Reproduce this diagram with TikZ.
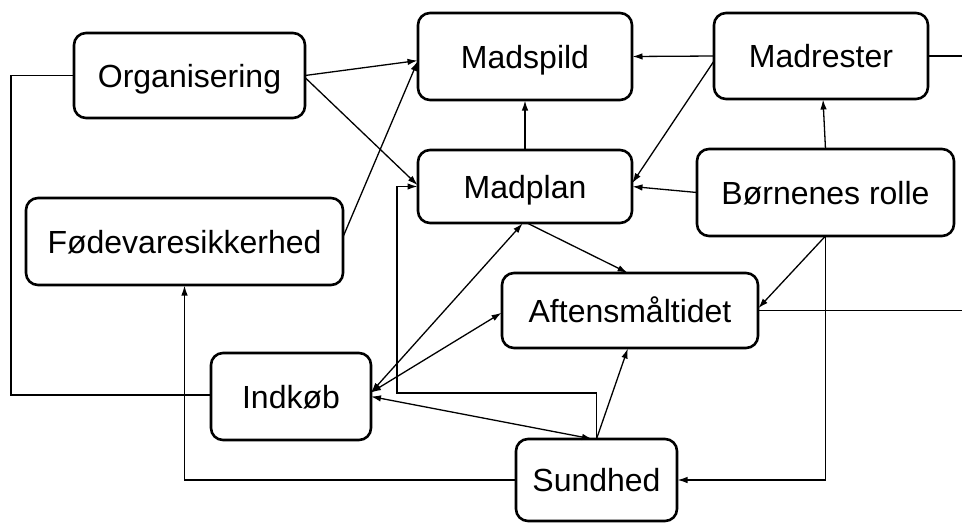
\documentclass[tikz,border=0pt]{standalone}
\usepackage{fontspec}
\setmainfont{Liberation Sans}
\usepackage{tikz}
\usetikzlibrary{arrows,arrows.meta,calc,positioning}
\tikzstyle{element}=[
  draw=black,
  fill=white,
  font={\fontsize{32}{38}\selectfont},
  inner sep=0pt,
  outer sep=0pt,
  rectangle,
  rounded corners=12pt,
  text centered,
  text height=23pt,
  text depth=0pt,
  line width=2.6pt,
]
\tikzstyle{arrow}=[
  color=black,
  draw=black,
  line width=1.3pt,
]
\tikzset{
  >={Latex[length=10pt,width=6.5pt]},
  shorten >=.5pt,
}

\begin{document}
\begin{tikzpicture}[x=1pt,y=-1pt]
      \useasboundingbox (0,0) rectangle (962,523);
      \node (organisering) [element, minimum width=231, minimum height=85] at (189.5,75.5) {Organisering};
      \node (madspild) [element, minimum width=214, minimum height=87] at (525,56.5) {Madspild};
      \node (madrester) [element, minimum width=214, minimum height=86] at (821,56) {Madrester};
      \node (madplan) [element, minimum width=214, minimum height=73] at (525,186.5) {Madplan};
      \node (boernenes) [element, minimum width=257, minimum height=87] at (825.5,192.5) {Børnenes rolle};
      \node (foedevare) [element, minimum width=317, minimum height=87] at (184.5,241.5) {Fødevaresikkerhed};
      \node (aftensmaal) [element, minimum width=256, minimum height=75] at (630,310.5) {Aftensmåltidet};
      \node (indkoeb) [element, minimum width=160, minimum height=87] at (291,396.5) {Indkøb};
      \node (sundhed) [element, minimum width=161, minimum height=82] at (596.5,480) {Sundhed};
      %%
      \coordinate (L) at (11,0);
      \coordinate (R) at (962,0);
      \coordinate (C) at (397,393);
      %%
      \draw [->, arrow] (organisering.east) -- ($(madspild.west)+(0,4)$);
      \draw [->, arrow] ($(organisering.east)+(0,2)$) -- ($(madplan.west)+(0,-1)$);
      \draw [->, arrow] ($(foedevare.east)+(0,-4.5)$) -- ($(madspild.west)+(0,4)$);
      \draw [->, arrow] (madrester.west) -- (madspild.east);
      \draw [->, arrow] ($(madrester.west)+(0,5)$) -- ($(madplan.east)+(0,-3)$);
      \draw [->, arrow] (madplan.north) -- (madspild.south);
      \draw [->, arrow] (boernenes.west) -- (madplan.east);
      \draw [->, arrow] (boernenes.north) -- ($(madrester.south)+(2,0)$);
      \draw [->, arrow] (boernenes.south) -- ($(aftensmaal.east)+(0,-2)$);
      \draw [->, arrow] (boernenes.south) |- (sundhed.east);
      \draw [arrow] (madrester.east) -- (madrester.east -| R);
      \draw [arrow] (aftensmaal.east) -- (aftensmaal.east -| R);
      \draw [arrow] (organisering.west) -- (organisering.west -| L) |- ($(indkoeb.west)+(0,-1.5)$);
      \draw [->, arrow] (sundhed.west) -| (foedevare.south);
      \draw [->, arrow] ($(madplan.south)+(2,0)$) -- ($(aftensmaal.north)+(-2,0)$);
      \draw [<->, arrow] ($(indkoeb.east)+(0,-4)$) -- ($(madplan.south)+(-2,0)$);
      \draw [<->, arrow] ($(indkoeb.east)+(0,-4)$) -- ($(aftensmaal.west)+(0,2)$);
      \draw [<->, arrow] (indkoeb.east) -- ($(sundhed.north)+(-4,0)$);
      \draw [->, arrow] (sundhed.north) -- ($(aftensmaal.south)+(-2,0)$);
      \draw [->, arrow] (sundhed.north) |- (C) |- (madplan.west);
    \end{tikzpicture}
\end{document}
